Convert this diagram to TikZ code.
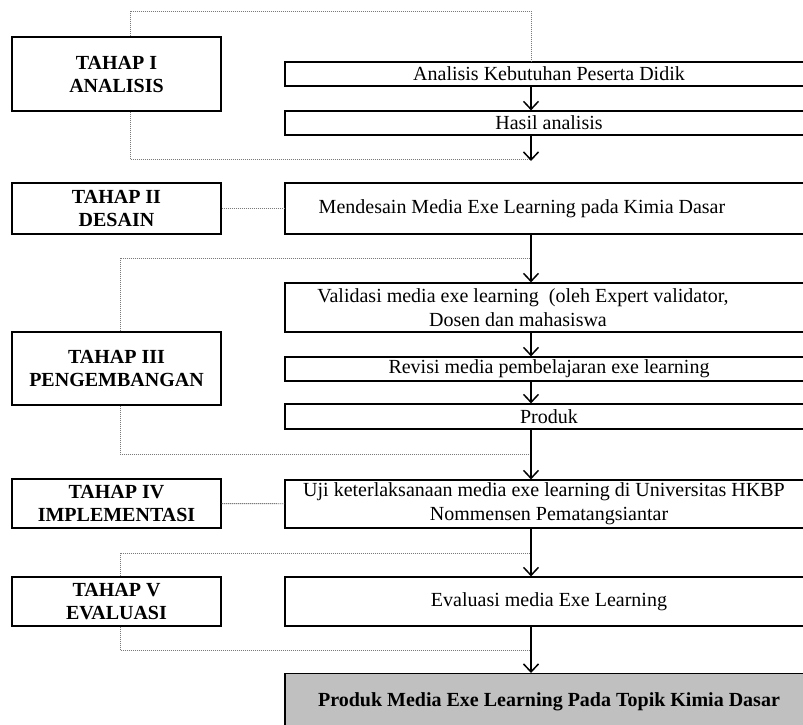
\documentclass[tikz,border=0pt]{standalone}
\usepackage{fontspec}
\setmainfont{Liberation Serif}
\usepackage{tikz}
\usetikzlibrary{arrows.meta,calc}
\definecolor{loopline}{HTML}{7A7A7A}
\definecolor{finalfill}{HTML}{C0C0C0}

\begin{document}
\begin{tikzpicture}[x=1pt,y=-1pt,
      tahap/.style={draw,line width=1.2pt,minimum width=209pt,inner sep=0pt,align=center,font=\fontsize{20}{23}\selectfont\bfseries},
      kegiatan/.style={draw,line width=1.2pt,minimum width=528pt,inner sep=0pt,align=center,font=\fontsize{20}{24}\selectfont},
      hasil/.style={kegiatan,fill=finalfill,font=\fontsize{20}{24}\selectfont\bfseries},
      loop/.style={draw=loopline,line width=0.9pt,dash pattern=on 1.2pt off 0.8pt},
      arrow/.style={-{Straight Barb[length=8pt,width=15pt,line width=1.5pt]},line width=1.5pt}
    ]
      \useasboundingbox (0,0) rectangle (803,724);
      % tahap (left column)
      \node[tahap,minimum height=74pt] (t1) at (116.5,74) {TAHAP I\\ANALISIS};
      \node[tahap,minimum height=51pt] (t2) at (116.5,208.5) {TAHAP II\\DESAIN};
      \node[tahap,minimum height=73pt] (t3) at (116.5,368.5) {TAHAP III\\PENGEMBANGAN};
      \node[tahap,minimum height=49pt] (t4) at (116.5,503.5) {TAHAP IV\\IMPLEMENTASI};
      \node[tahap,minimum height=49pt] (t5) at (116.5,601.5) {TAHAP V\\EVALUASI};
      % kegiatan (right column)
      \node[kegiatan,minimum height=24pt] (ak) at (549,74) {Analisis Kebutuhan Peserta Didik};
      \node[kegiatan,minimum height=24pt] (ha) at (549,123) {Hasil analisis};
      \node[kegiatan,minimum height=51pt] (md) at (549,208.5) {\hspace*{-54pt}Mendesain Media Exe Learning pada Kimia Dasar};
      \node[kegiatan,minimum height=49pt] (va) at (549,307.5) {\hspace*{-52pt}Validasi media exe learning~ (oleh Expert validator,\\\hspace*{-62pt}Dosen dan mahasiswa};
      \node[kegiatan,minimum height=24pt] (rv) at (549,369) {Revisi media pembelajaran exe learning};
      \node[kegiatan,minimum height=25pt] (pr) at (549,416.5) {Produk};
      \node[kegiatan,minimum height=48pt] (uj) at (549,504) {\hspace*{-10pt}Uji keterlaksanaan media exe learning di Universitas HKBP\\Nommensen Pematangsiantar};
      \node[kegiatan,minimum height=49pt] (ev) at (549,601.5) {Evaluasi media Exe Learning};
      \node[hasil,minimum height=62pt,anchor=north] (pm) at (549,673) {\raisebox{10pt}{Produk Media Exe Learning Pada Topik Kimia Dasar}};
      % arrow line and loop corners
      \coordinate (ax) at (531,0);
      \coordinate (c1) at (130,11);
      \coordinate (c2) at (130,159);
      \coordinate (c3) at (120,258);
      \coordinate (c4) at (120,454);
      \coordinate (c5) at (120,553);
      \coordinate (c6) at (120,650);
      % dashed loops
      \draw[loop] (t1.north -| c1) -- (c1) -- (c1 -| ax) -- (ak.north -| ax);
      \draw[loop] (t1.south -| c2) -- (c2) -- (c2 -| ax);
      \draw[loop] (t2) -- (md);
      \draw[loop] (t3.north -| c3) -- (c3) -- (c3 -| ax);
      \draw[loop] (t3.south -| c4) -- (c4) -- (c4 -| ax);
      \draw[loop] (t4) -- (uj);
      \draw[loop] (t5.north -| c5) -- (c5) -- (c5 -| ax);
      \draw[loop] (t5.south -| c6) -- (c6) -- (c6 -| ax);
      % arrows
      \draw[arrow] (ak.south -| ax) -- (ha.north -| ax);
      \draw[arrow] (ha.south -| ax) -- ($(c2 -| ax)+(0,2)$);
      \draw[arrow] (md.south -| ax) -- (va.north -| ax);
      \draw[arrow] (va.south -| ax) -- (rv.north -| ax);
      \draw[arrow] (rv.south -| ax) -- (pr.north -| ax);
      \draw[arrow] (pr.south -| ax) -- (uj.north -| ax);
      \draw[arrow] (uj.south -| ax) -- (ev.north -| ax);
      \draw[arrow] (ev.south -| ax) -- (pm.north -| ax);
    \end{tikzpicture}
\end{document}
